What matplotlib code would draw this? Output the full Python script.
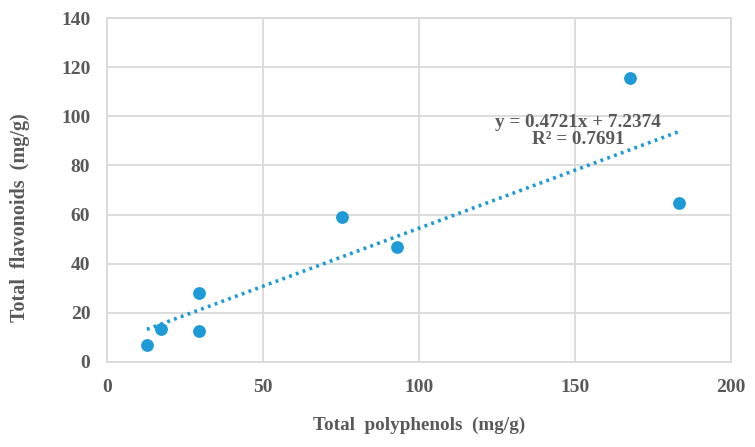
import numpy as np
import matplotlib.pyplot as plt

# values
polyphenols = [12.8, 17.3, 29.6, 29.6, 75.3, 92.8, 167.6, 183.3]
flavonoids = [6.9, 13.5, 28.2, 12.7, 58.9, 46.9, 115.5, 64.7]
slope = 0.4721
intercept = 7.2374
r2 = 0.7691

blue = '#1e9ad6'
grey = '#595959'
font = dict(family='Liberation Serif', weight='bold', color=grey)

fig = plt.figure(figsize=(7.55, 4.47), dpi=100)
ax = fig.add_axes([107/755, 1 - 362/447, 624/755, 344/447])

ax.scatter(polyphenols, flavonoids, s=85, color=blue, zorder=3, linewidths=0)

xs = np.array([min(polyphenols), max(polyphenols)])
ax.plot(xs, slope * xs + intercept, color=blue, linestyle=(0, (0.8, 1.2)),
        linewidth=2.6, zorder=2)

ax.text(151, 94, 'y = %.4fx + %.4f\nR² = %.4f' % (slope, intercept, r2),
        ha='center', va='center', fontsize=13.8, linespacing=1.05, **font)

ax.set_xlim(0, 200)
ax.set_ylim(0, 140)
ax.set_xticks(range(0, 201, 50))
ax.set_yticks(range(0, 141, 20))
ax.grid(True, color='#d9d9d9', linewidth=1.3)
ax.set_axisbelow(True)
for s in ax.spines.values():
    s.set_color('#d9d9d9')
    s.set_linewidth(1.3)
ax.tick_params(length=0, pad=12)
for lab in ax.get_xticklabels() + ax.get_yticklabels():
    lab.set_fontfamily('Liberation Serif')
    lab.set_fontweight('bold')
    lab.set_color(grey)
    lab.set_fontsize(14)

ax.set_xlabel('Total  polyphenols  (mg/g)', fontsize=13.8, **font)
ax.set_ylabel('Total  flavonoids  (mg/g)', fontsize=14.5, **font)
ax.xaxis.set_label_coords(0.5, -0.16)
ax.yaxis.set_label_coords(-0.123, 0.42)

fig.savefig('out.png', dpi=100)
